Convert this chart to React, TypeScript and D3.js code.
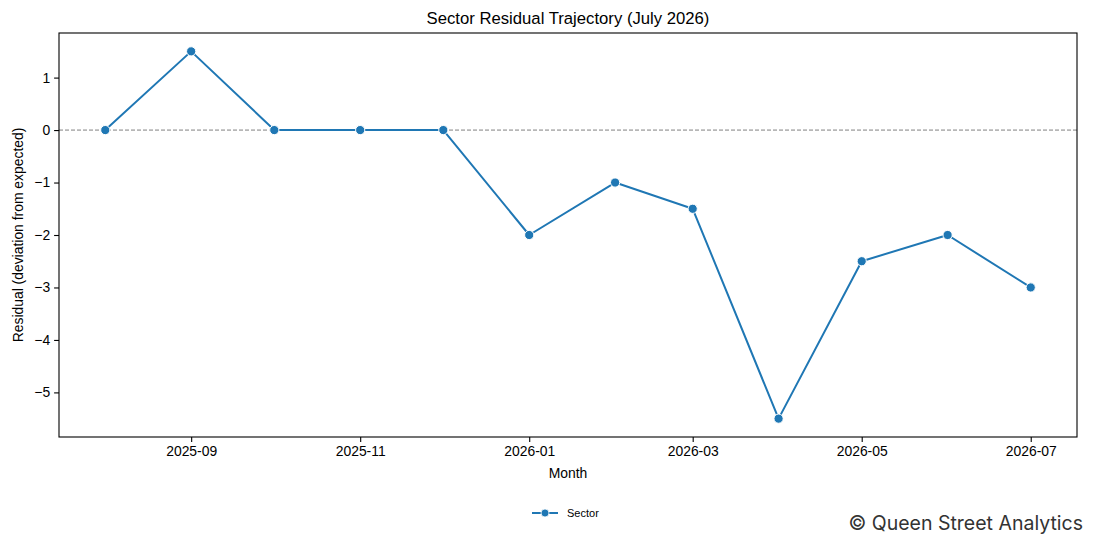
import React, { useRef, useEffect } from 'react';
import * as d3 from 'd3';

// months (first of month) and sector residuals
const months = [
  '2025-08', '2025-09', '2025-10', '2025-11', '2025-12', '2026-01',
  '2026-02', '2026-03', '2026-04', '2026-05', '2026-06', '2026-07',
];
const residuals = [0, 1.5, 0, 0, 0, -2, -1, -1.5, -5.5, -2.5, -2, -3];
const xTickLabels = ['2025-09', '2025-11', '2026-01', '2026-03', '2026-05', '2026-07'];
const yTicks = [-5, -4, -3, -2, -1, 0, 1];
const seriesName = 'Sector';

const W = 1095;
const H = 546;
const margin = { top: 33, right: 18, bottom: 109, left: 59 };
const color = '#1f77b4';
const font = '"Liberation Sans", Arial, sans-serif';

const parse = d3.utcParse('%Y-%m');

const Chart: React.FC = () => {
  const svgRef = useRef<SVGSVGElement>(null);

  useEffect(() => {
    if (!svgRef.current) return;
    const svg = d3.select(svgRef.current);
    svg.selectAll('*').remove();

    const data = months.map((m, i) => ({ date: parse(m) as Date, value: residuals[i] }));

    const x0 = margin.left;
    const x1 = W - margin.right;
    const y0 = margin.top;
    const y1 = H - margin.bottom;

    // matplotlib-style 5% padding
    const [dMin, dMax] = d3.extent(data, d => +d.date) as [number, number];
    const dPad = (dMax - dMin) * 0.05;
    const xScale = d3.scaleUtc()
      .domain([new Date(dMin - dPad), new Date(dMax + dPad)])
      .range([x0, x1]);

    const [vMin, vMax] = d3.extent(residuals) as [number, number];
    const vPad = (vMax - vMin) * 0.05;
    const yScale = d3.scaleLinear()
      .domain([vMin - vPad, vMax + vPad])
      .range([y1, y0]);

    // title
    svg.append('text')
      .attr('x', (x0 + x1) / 2)
      .attr('y', 24)
      .attr('text-anchor', 'middle')
      .attr('font-family', font)
      .attr('font-size', 16.7)
      .text('Sector Residual Trajectory (July 2026)');

    // zero reference line
    svg.append('line')
      .attr('x1', x0).attr('x2', x1)
      .attr('y1', yScale(0)).attr('y2', yScale(0))
      .attr('stroke', '#808080')
      .attr('stroke-width', 1)
      .attr('stroke-dasharray', '4,2');

    // x axis
    const xAxis = d3.axisBottom(xScale)
      .tickValues(xTickLabels.map(t => parse(t) as Date))
      .tickFormat(d => d3.utcFormat('%Y-%m')(d as Date))
      .tickSize(4.9)
      .tickPadding(4);
    const gx = svg.append('g').attr('transform', `translate(0,${y1})`).call(xAxis);
    gx.select('.domain').remove();
    gx.selectAll('text').attr('font-family', font).attr('font-size', 13.9).attr('fill', '#000');
    gx.selectAll('line').attr('stroke', '#000').attr('stroke-width', 1.1);

    // y axis
    const yAxis = d3.axisLeft(yScale)
      .tickValues(yTicks)
      .tickFormat(d => d3.format('d')(d as number).replace('-', '\u2212'))
      .tickSize(4.9)
      .tickPadding(4);
    const gy = svg.append('g').attr('transform', `translate(${x0},0)`).call(yAxis);
    gy.select('.domain').remove();
    gy.selectAll('text').attr('font-family', font).attr('font-size', 13.9).attr('fill', '#000');
    gy.selectAll('line').attr('stroke', '#000').attr('stroke-width', 1.1);

    // axis labels
    svg.append('text')
      .attr('x', (x0 + x1) / 2)
      .attr('y', 478)
      .attr('text-anchor', 'middle')
      .attr('font-family', font)
      .attr('font-size', 13.9)
      .text('Month');

    svg.append('text')
      .attr('transform', `translate(23,${(y0 + y1) / 2}) rotate(-90)`)
      .attr('text-anchor', 'middle')
      .attr('font-family', font)
      .attr('font-size', 13.9)
      .text('Residual (deviation from expected)');

    // series line
    const line = d3.line<{ date: Date; value: number }>()
      .x(d => xScale(d.date))
      .y(d => yScale(d.value));

    svg.append('path')
      .datum(data)
      .attr('fill', 'none')
      .attr('stroke', color)
      .attr('stroke-width', 2)
      .attr('stroke-linejoin', 'round')
      .attr('d', line);

    svg.append('g')
      .selectAll('circle')
      .data(data)
      .join('circle')
      .attr('cx', d => xScale(d.date))
      .attr('cy', d => yScale(d.value))
      .attr('r', 4.6)
      .attr('fill', color)
      .attr('stroke', '#fff')
      .attr('stroke-width', 1);

    // frame
    svg.append('rect')
      .attr('x', x0).attr('y', y0)
      .attr('width', x1 - x0).attr('height', y1 - y0)
      .attr('fill', 'none')
      .attr('stroke', '#000')
      .attr('stroke-width', 1.1);

    // legend
    const lg = svg.append('g').attr('transform', 'translate(532,513)');
    lg.append('line')
      .attr('x1', 0).attr('x2', 26)
      .attr('stroke', color).attr('stroke-width', 2);
    lg.append('circle')
      .attr('cx', 13).attr('r', 4)
      .attr('fill', color).attr('stroke', '#fff').attr('stroke-width', 0.8);
    lg.append('text')
      .attr('x', 35).attr('y', 4)
      .attr('font-family', font)
      .attr('font-size', 11)
      .text(seriesName);

    // watermark
    svg.append('text')
      .attr('x', 1083)
      .attr('y', 530)
      .attr('text-anchor', 'end')
      .attr('font-family', 'Inter, "Noto Sans", sans-serif')
      .attr('font-size', 19.5)
      .attr('fill', '#333')
      .text('\u00a9 Queen Street Analytics');
  }, []);

  return <svg ref={svgRef} width={W} height={H} style={{ display: 'block', background: '#fff' }} />;
};

export default function App() {
  return (
    <div style={{ position: 'absolute', top: 0, left: 0 }}>
      <Chart />
    </div>
  );
}
